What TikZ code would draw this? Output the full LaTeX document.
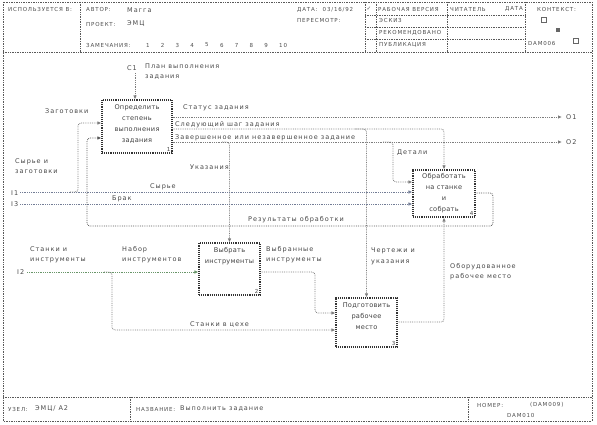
\documentclass[tikz,border=0pt]{standalone}
\usepackage{fontspec}
\setmainfont{DejaVu Sans}
\newfontfamily\idef[LetterSpace=15]{DejaVu Sans}
\newfontfamily\idbox[LetterSpace=4]{DejaVu Sans}
\usetikzlibrary{arrows.meta,positioning}
\definecolor{idline}{RGB}{125,125,125}
\definecolor{idblue}{RGB}{115,125,150}
\definecolor{idgreen}{RGB}{105,150,105}
\definecolor{idtext}{RGB}{70,70,70}
\tikzset{
  formline/.style={draw=black!65, densely dotted, line width=0.7pt},
  func/.style={draw=black!80, densely dotted, line width=1.1pt, inner sep=0pt},
  functxt/.style={font=\idbox\fontsize{6.6}{11}\selectfont, text=black!75, align=center, inner sep=0pt},
  fnum/.style={font=\idef\fontsize{5.5}{6}\selectfont, text=black!75, inner sep=2pt, anchor=south east},
  flow/.style={-{Latex[length=4pt,width=3.5pt]}, draw=idline, densely dotted, line width=0.8pt, rounded corners=3pt},
  lbl/.style={font=\idef\fontsize{6.5}{10.5}\selectfont, text=idtext, inner sep=0pt, anchor=west, align=left},
  hdr/.style={font=\idef\fontsize{5.5}{6}\selectfont, text=black!70, inner sep=0pt, anchor=west}
}

\begin{document}
\begin{tikzpicture}[x=1pt,y=-1pt]
  \path[use as bounding box] (0,0) rectangle (597,425);
  % form
  \draw[formline] (3,2) rectangle (592,421);
  \draw[formline] (3,52) -- (592,52);
  \draw[formline] (3,397) -- (592,397);
  \draw[formline] (80,2) -- (80,52);
  \draw[formline] (365,2) -- (365,52);
  \draw[formline] (376,2) -- (376,52);
  \draw[formline] (447,2) -- (447,52);
  \draw[formline] (525,2) -- (525,52);
  \foreach \yy in {15,27,39} \draw[formline] (365,\yy) -- (525,\yy);
  \draw[formline] (130,397) -- (130,421);
  \draw[formline] (468,397) -- (468,421);

  % header
  \node[hdr] (usedat) at (8,10) {ИСПОЛЬЗУЕТСЯ В:};
  \node[hdr] (author) at (86,10) {АВТОР:};
  \node[hdr, font=\idef\fontsize{6.5}{7}\selectfont] (authorv) at (127,10) {Магга};
  \node[hdr] (project) at (86,24) {ПРОЕКТ:};
  \node[hdr, font=\idef\fontsize{6.5}{7}\selectfont] (projectv) at (127,24) {ЭМЦ};
  \node[hdr] (notes) at (86,45) {ЗАМЕЧАНИЯ:};
  \foreach \n in {1,...,10}
    \node[hdr] (note\n) at (131+14.8*\n,45) {\n};
  \node[hdr] (date) at (297,10) {ДАТА:\ \ 03/16/92};
  \node[hdr] (revision) at (297,21) {ПЕРЕСМОТР:};
  \node[hdr] (check) at (366.5,9) {✓};
  \node[hdr] (working) at (378,9) {РАБОЧАЯ ВЕРСИЯ};
  \node[hdr] (draft) at (379,21) {ЭСКИЗ};
  \node[hdr] (recomm) at (379,33) {РЕКОМЕНДОВАНО};
  \node[hdr] (publ) at (379,45) {ПУБЛИКАЦИЯ};
  \node[hdr] (reader) at (450,9) {ЧИТАТЕЛЬ};
  \node[hdr] (rdate) at (505,9) {ДАТА};
  \node[hdr] (context) at (537,9) {КОНТЕКСТ:};
  \node[draw=black!60, minimum size=5pt, inner sep=0pt] (ctxa) at (544,20) {};
  \node[fill=black!60, minimum size=4pt, inner sep=0pt] (ctxb) at (558,30) {};
  \node[draw=black!60, minimum size=5pt, inner sep=0pt] (ctxc) at (576,41) {};
  \node[hdr] (ctxnum) at (528,43) {DAM006};

  % footer
  \node[hdr] (node) at (8,409) {УЗЕЛ:};
  \node[hdr, font=\idef\fontsize{6.5}{7}\selectfont] (nodev) at (35,409) {ЭМЦ/ А2};
  \node[hdr] (title) at (136,409) {НАЗВАНИЕ:};
  \node[hdr, font=\idef\fontsize{6.5}{7}\selectfont] (titlev) at (180,409) {Выполнить задание};
  \node[hdr] (number) at (477,405) {НОМЕР:};
  \node[hdr] (numberv) at (530,405) {(DAM009)};
  \node[hdr] (numbern) at (507,415) {DAM010};

  % functions
  \node[func, minimum width=70pt, minimum height=53pt] (b1) at (137,126.5) {};
  \node[functxt, below=5pt of b1.north] (b1t) {Определить\\степень\\выполнения\\задания};
  \node[fnum] (b1n) at (b1.south east) {1};
  \node[func, minimum width=61pt, minimum height=52pt] (b2) at (229.5,269) {};
  \node[functxt, below=5pt of b2.north] (b2t) {Выбрать\\инструменты};
  \node[fnum] (b2n) at (b2.south east) {2};
  \node[func, minimum width=61pt, minimum height=49pt] (b3) at (366.5,322.5) {};
  \node[functxt, below=5pt of b3.north] (b3t) {Подготовить\\рабочее\\место};
  \node[fnum] (b3n) at (b3.south east) {3};
  \node[func, minimum width=62pt, minimum height=47pt] (b4) at (444,193.5) {};
  \node[functxt, below=4pt of b4.north] (b4t) {Обработать\\на станке\\и\\собрать};
  \node[fnum] (b4n) at (b4.south east) {4};

  % arrow ends
  \coordinate (c1) at (135,73);
  \coordinate (o1) at (562,117);
  \coordinate (o2) at (562,142);
  \coordinate (step) at (b4.north |- 0,129);
  \coordinate (stepb) at (355,129);
  \coordinate (hint) at (222,142);
  \coordinate (part) at (383,142);
  \coordinate (partd) at (393,182);
  \coordinate (i1) at (20,192);
  \coordinate (i3) at (20,204);
  \coordinate (blank) at (70,192);
  \coordinate (blanku) at (78,123);
  \coordinate (resr) at (493,193);
  \coordinate (resb) at (493,226);
  \coordinate (resl) at (87,226);
  \coordinate (resu) at (87,138);
  \coordinate (i2) at (27,272);
  \coordinate (tool) at (104,272);
  \coordinate (toold) at (112,330);
  \coordinate (sel) at (315,272);
  \coordinate (seld) at (315,313);
  \coordinate (place) at (443,322);

  % arrows
  \draw[flow] (c1) -- (c1 |- b1.north);
  \draw[flow] (b1.east |- o1) -- (o1);
  \draw[flow] (b1.east |- o2) -- (o2);
  \draw[flow] (b1.east |- step) -- (step) -- (b4.north);
  \draw[flow] (stepb) -| (b3.north);
  \draw[flow] (hint) -| (b2.north);
  \draw[flow] (part) -| (partd) -- (partd -| b4.west);
  \draw[flow, draw=idblue] (i1) -- (i1 -| b4.west);
  \draw[flow, draw=idblue] (i3) -- (i3 -| b4.west);
  \draw[flow] (blank) -| (blanku) -- (blanku -| b1.west);
  \draw[flow, draw=black!65] (b4.east |- resr) -- (resr) -- (resb) -- (resl) -- (resu) -- (resu -| b1.west);
  \draw[flow, draw=idgreen] (i2) -- (i2 -| b2.west);
  \draw[flow] (tool) -| (toold) -- (toold -| b3.west);
  \draw[flow] (b2.east |- sel) -- (sel) -- (seld) -- (seld -| b3.west);
  \draw[flow] (b3.east |- place) -| (b4.south);

  % labels
  \node[lbl] (c1l) at (127,68) {C1};
  \node[lbl, anchor=north west] (planl) at (145,63.5) {План выполнения\\задания};
  \node[lbl] (blankl) at (45,111) {Заготовки};
  \node[lbl] (statl) at (183,108) {Статус задания};
  \node[lbl] (stepl) at (175,124.5) {Следующий шаг задания};
  \node[lbl] (donel) at (175,137.5) {Завершенное или незавершенное задание};
  \node[lbl] (o1l) at (566,117) {O1};
  \node[lbl] (o2l) at (566,142) {O2};
  \node[lbl] (partl) at (397,153) {Детали};
  \node[lbl, anchor=north west] (rawl) at (15,158) {Сырье и\\заготовки};
  \node[lbl] (hintl) at (190,167) {Указания};
  \node[lbl] (i1l) at (11,193) {I1};
  \node[lbl] (i3l) at (11,204) {I3};
  \node[lbl] (rawil) at (150,187) {Сырье};
  \node[lbl] (scrapl) at (112,199) {Брак};
  \node[lbl] (resl) at (248,220) {Результаты обработки};
  \node[lbl, anchor=north west] (machl) at (30,246) {Станки и\\инструменты};
  \node[lbl] (i2l) at (17,272) {I2};
  \node[lbl, anchor=north west] (setl) at (122,246) {Набор\\инструментов};
  \node[lbl, anchor=north west] (sell) at (266,246) {Выбранные\\инструменты};
  \node[lbl, anchor=north west] (drawl) at (371,248) {Чертежи и\\указания};
  \node[lbl, anchor=north west] (placel) at (450,263) {Оборудованное\\рабочее место};
  \node[lbl] (shopl) at (190,325) {Станки в цехе};
\end{tikzpicture}
\end{document}
